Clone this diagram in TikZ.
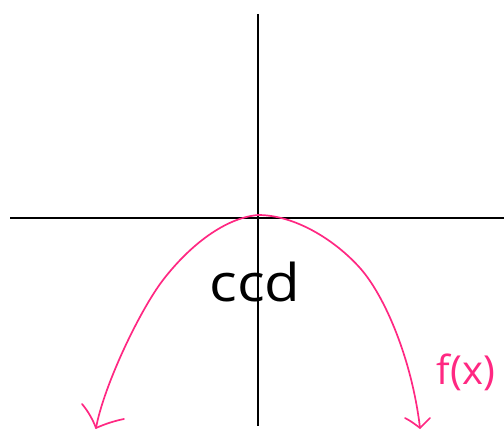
\documentclass[tikz,border=0pt]{standalone}
\usepackage{fontspec}
\setmainfont{Open Sans}
\definecolor{hotpink}{RGB}{255,40,130}
\begin{document}
\begin{tikzpicture}[x=1pt,y=-1pt,
  axis/.style={black,line width=1.8pt},
  curve/.style={hotpink,line width=1.7pt,line cap=round,line join=round}]
\useasboundingbox (0,0) rectangle (504,430);
\coordinate (ytop) at (258,14);
\coordinate (ybot) at (258,426);
\coordinate (xl) at (10,218);
\coordinate (xr) at (504,218);
\draw[axis] (ytop) -- (ybot);
\draw[axis] (xl) -- (xr);
% parabola
\coordinate (lend) at (96,428);
\coordinate (rend) at (420,428);
\coordinate (peak) at (258,215);
\draw[curve] (lend) .. controls (104,385) and (140,310) .. (163,280)
  .. controls (190,245) and (225,218) .. (peak)
  .. controls (295,215) and (335,240) .. (360,268)
  .. controls (385,296) and (412,360) .. (rend);
\draw[curve] (82,404) .. controls (88,411) and (93,420) .. (lend) .. controls (105,424) and (114,421) .. (124,419);
\draw[curve] (405,418) .. controls (411,421) and (416,425) .. (rend) .. controls (423,425) and (427,421) .. (430,418);
\node[font=\fontsize{52}{52}\selectfont\addfontfeature{Weight=300}, inner sep=0pt, anchor=base, xscale=1.12, transform shape] (ccd) at (255,302) {ccd};
\node[hotpink, font=\fontsize{40}{40}\selectfont\addfontfeature{Weight=300}, inner sep=0pt, anchor=base] (fx) at (466,385) {f(x)};
\end{tikzpicture}
\end{document}
